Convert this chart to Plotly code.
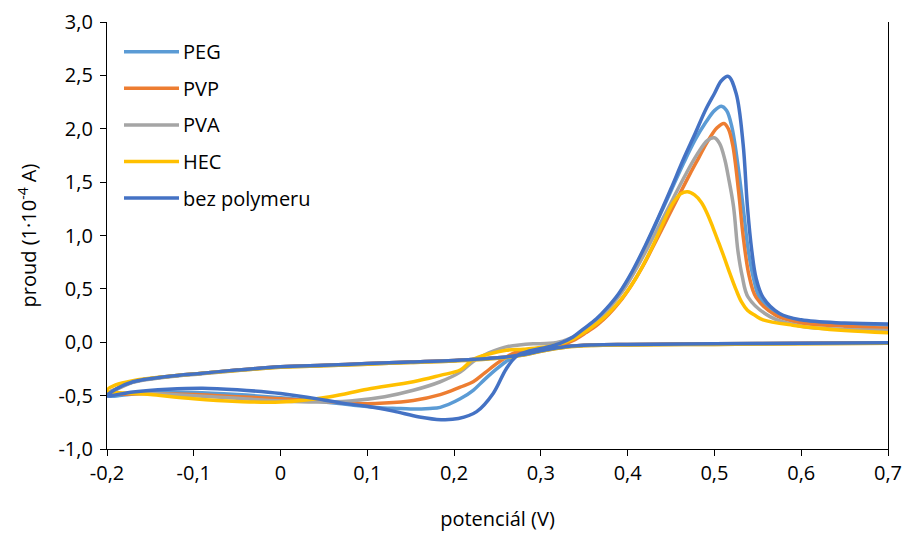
import plotly.graph_objects as go

# Cyclic voltammograms: potential (V) vs current (1e-4 A).
# Each loop is listed from the upper-right end (0.7 V) leftwards along the
# peak branch down to -0.2 V, then back rightwards along the lower-current branch.

peg_E = [0.70, 0.65, 0.60, 0.573, 0.552, 0.545, 0.539, 0.534, 0.528, 0.520, 0.514, 0.508, 0.500,
         0.490, 0.478, 0.464, 0.450, 0.436, 0.420, 0.405, 0.390, 0.376, 0.364, 0.350, 0.337, 0.322,
         0.305, 0.288, 0.272, 0.260, 0.249, 0.235, 0.222, 0.207, 0.184, 0.172, 0.150, 0.134, 0.110,
         0.080, 0.050, 0.000, -0.050, -0.100, -0.150, -0.200,
         -0.190, -0.170, -0.130, -0.090, -0.050, 0.000, 0.050, 0.100, 0.150, 0.200, 0.250, 0.280,
         0.300, 0.330, 0.360, 0.400, 0.500, 0.600, 0.700]
peg_I = [0.16, 0.17, 0.20, 0.26, 0.42, 0.60, 0.86, 1.20, 1.60, 2.02, 2.17, 2.21, 2.17,
         2.06, 1.90, 1.67, 1.42, 1.17, 0.89, 0.65, 0.45, 0.31, 0.21, 0.12, 0.04, -0.02,
         -0.05, -0.08, -0.12, -0.18, -0.25, -0.35, -0.45, -0.53, -0.61, -0.62, -0.625, -0.62, -0.61,
         -0.585, -0.56, -0.52, -0.49, -0.47, -0.47, -0.50,
         -0.44, -0.37, -0.32, -0.29, -0.26, -0.23, -0.215, -0.20, -0.185, -0.17, -0.145, -0.115,
         -0.08, -0.04, -0.025, -0.02, -0.015, -0.01, -0.005]

pvp_E = [0.70, 0.65, 0.60, 0.571, 0.548, 0.540, 0.533, 0.528, 0.521, 0.516, 0.511, 0.503, 0.492,
         0.482, 0.472, 0.460, 0.447, 0.432, 0.418, 0.404, 0.390, 0.378, 0.366, 0.352, 0.338, 0.322,
         0.305, 0.288, 0.272, 0.260, 0.249, 0.235, 0.222, 0.207, 0.184, 0.153, 0.120, 0.095, 0.050,
         0.000, -0.050, -0.100, -0.150, -0.200,
         -0.190, -0.170, -0.130, -0.090, -0.050, 0.000, 0.050, 0.100, 0.150, 0.200, 0.250, 0.280,
         0.300, 0.330, 0.360, 0.400, 0.500, 0.600, 0.700]
pvp_I = [0.13, 0.15, 0.18, 0.25, 0.42, 0.62, 1.00, 1.40, 1.85, 2.00, 2.05, 2.01, 1.88,
         1.73, 1.58, 1.39, 1.18, 0.94, 0.72, 0.53, 0.37, 0.26, 0.17, 0.09, 0.02, -0.03,
         -0.05, -0.07, -0.09, -0.14, -0.20, -0.29, -0.37, -0.42, -0.49, -0.545, -0.57, -0.575, -0.555,
         -0.53, -0.51, -0.49, -0.48, -0.48,
         -0.44, -0.37, -0.32, -0.29, -0.26, -0.23, -0.215, -0.20, -0.185, -0.17, -0.145, -0.115,
         -0.08, -0.04, -0.025, -0.02, -0.015, -0.01, -0.005]

pva_E = [0.70, 0.65, 0.60, 0.564, 0.539, 0.532, 0.527, 0.522, 0.516, 0.512, 0.506, 0.500, 0.492,
         0.480, 0.466, 0.452, 0.438, 0.424, 0.410, 0.396, 0.382, 0.368, 0.354, 0.340, 0.325, 0.310,
         0.291, 0.275, 0.262, 0.253, 0.240, 0.222, 0.207, 0.184, 0.153, 0.120, 0.080, 0.040, 0.000,
         -0.050, -0.100, -0.150, -0.200,
         -0.190, -0.170, -0.130, -0.090, -0.050, 0.000, 0.050, 0.100, 0.150, 0.200, 0.250, 0.280,
         0.300, 0.330, 0.360, 0.400, 0.500, 0.600, 0.700]
pva_I = [0.11, 0.12, 0.15, 0.24, 0.42, 0.62, 0.86, 1.27, 1.55, 1.71, 1.86, 1.915, 1.89,
         1.76, 1.56, 1.34, 1.12, 0.90, 0.69, 0.50, 0.35, 0.23, 0.13, 0.06, 0.01, -0.01,
         -0.015, -0.025, -0.04, -0.06, -0.10, -0.18, -0.28, -0.37, -0.45, -0.51, -0.55, -0.56, -0.55,
         -0.525, -0.50, -0.48, -0.47,
         -0.445, -0.375, -0.325, -0.295, -0.265, -0.235, -0.22, -0.205, -0.19, -0.175, -0.15, -0.12,
         -0.085, -0.045, -0.03, -0.025, -0.02, -0.015, -0.01]

hec_E = [0.70, 0.65, 0.59, 0.556, 0.547, 0.538, 0.531, 0.525, 0.518, 0.511, 0.505, 0.4985, 0.492,
         0.485, 0.477, 0.469, 0.461, 0.452, 0.441, 0.430, 0.419, 0.408, 0.397, 0.386, 0.374, 0.362,
         0.350, 0.337, 0.320, 0.300, 0.280, 0.260, 0.240, 0.222, 0.207, 0.184, 0.153, 0.100, 0.057,
         0.000, -0.050, -0.100, -0.150, -0.200,
         -0.190, -0.170, -0.130, -0.090, -0.050, 0.000, 0.050, 0.100, 0.150, 0.200, 0.250, 0.280,
         0.300, 0.330, 0.360, 0.400, 0.500, 0.600, 0.700]
hec_I = [0.09, 0.11, 0.16, 0.21, 0.25, 0.30, 0.38, 0.49, 0.64, 0.80, 0.93, 1.07, 1.20,
         1.31, 1.38, 1.41, 1.39, 1.30, 1.12, 0.92, 0.74, 0.58, 0.45, 0.34, 0.24, 0.16,
         0.09, 0.03, -0.02, -0.05, -0.065, -0.075, -0.11, -0.16, -0.26, -0.31, -0.37, -0.44, -0.51,
         -0.56, -0.555, -0.53, -0.49, -0.45,
         -0.40, -0.36, -0.32, -0.29, -0.265, -0.235, -0.22, -0.205, -0.19, -0.175, -0.15, -0.12,
         -0.085, -0.045, -0.03, -0.025, -0.02, -0.015, -0.01]

bez_E = [0.70, 0.65, 0.60, 0.575, 0.556, 0.548, 0.543, 0.538, 0.533, 0.525, 0.516, 0.508, 0.500,
         0.490, 0.478, 0.464, 0.450, 0.436, 0.420, 0.405, 0.390, 0.376, 0.364, 0.350, 0.337, 0.322,
         0.305, 0.288, 0.272, 0.260, 0.245, 0.226, 0.205, 0.185, 0.160, 0.130, 0.100, 0.075, 0.050,
         0.000, -0.050, -0.090, -0.130, -0.170, -0.200,
         -0.190, -0.170, -0.130, -0.090, -0.050, 0.000, 0.050, 0.100, 0.150, 0.200, 0.250, 0.280,
         0.300, 0.330, 0.360, 0.400, 0.500, 0.600, 0.700]
bez_I = [0.17, 0.18, 0.21, 0.27, 0.42, 0.60, 0.86, 1.27, 1.86, 2.33, 2.49, 2.45, 2.33,
         2.18, 1.96, 1.71, 1.44, 1.18, 0.90, 0.66, 0.46, 0.32, 0.22, 0.13, 0.05, -0.01,
         -0.05, -0.08, -0.13, -0.25, -0.48, -0.65, -0.715, -0.725, -0.70, -0.645, -0.60, -0.575, -0.54,
         -0.48, -0.445, -0.43, -0.44, -0.465, -0.50,
         -0.44, -0.37, -0.32, -0.29, -0.26, -0.23, -0.215, -0.20, -0.185, -0.17, -0.145, -0.115,
         -0.08, -0.04, -0.025, -0.02, -0.015, -0.01, -0.005]

series_names = ["PEG", "PVP", "PVA", "HEC", "bez polymeru"]
series_colors = ["#5B9BD5", "#ED7D31", "#A5A5A5", "#FFC000", "#4472C4"]
series_E = [peg_E, pvp_E, pva_E, hec_E, bez_E]
series_I = [peg_I, pvp_I, pva_I, hec_I, bez_I]

x_ticks = [-0.2, -0.1, 0.0, 0.1, 0.2, 0.3, 0.4, 0.5, 0.6, 0.7]
x_tick_labels = ["-0,2", "-0,1", "0", "0,1", "0,2", "0,3", "0,4", "0,5", "0,6", "0,7"]
y_ticks = [-1.0, -0.5, 0.0, 0.5, 1.0, 1.5, 2.0, 2.5, 3.0]
y_tick_labels = ["-1,0", "-0,5", "0,0", "0,5", "1,0", "1,5", "2,0", "2,5", "3,0"]

FONT = "Open Sans"
FS = 20
W, H = 904, 533
L, R, T, B = 107, 16, 22, 84
plot_w = W - L - R
plot_h = H - T - B

fig = go.Figure()
for name, color, E, I in zip(series_names, series_colors, series_E, series_I):
    fig.add_trace(go.Scatter(
        x=E, y=I, mode="lines", name=name,
        line=dict(color=color, width=3.5, shape="spline", smoothing=1.0),
        showlegend=False, hoverinfo="skip",
    ))

# Legend drawn as line samples and text inside the upper-left corner
legend_top_px = 51.7
legend_step_px = 36.6
shapes, annotations = [], []
for k, (name, color) in enumerate(zip(series_names, series_colors)):
    py = legend_top_px + k * legend_step_px
    yp = (H - B - py) / plot_h
    shapes.append(dict(type="line", xref="paper", yref="paper",
                       x0=(124 - L) / plot_w, x1=(179 - L) / plot_w, y0=yp, y1=yp,
                       line=dict(color=color, width=3.5)))
    annotations.append(dict(xref="paper", yref="paper", x=(181 - L) / plot_w, y=yp,
                            text=name, showarrow=False, xanchor="left", yanchor="middle",
                            font=dict(family=FONT, size=FS, color="#000000")))

fig.update_layout(
    width=W, height=H,
    margin=dict(l=L, r=R, t=T, b=B),
    paper_bgcolor="white", plot_bgcolor="white",
    font=dict(family=FONT, size=FS, color="#000000"),
    shapes=shapes, annotations=annotations,
    showlegend=False,
)
fig.update_xaxes(
    range=[-0.2, 0.7], tickvals=x_ticks, ticktext=x_tick_labels, automargin=False,
    showgrid=False, zeroline=False, showline=True, linecolor="#000000", linewidth=1.2,
    ticks="outside", ticklen=6, tickcolor="#000000", tickwidth=1.2,
    tickfont=dict(family=FONT, size=FS, color="#000000"),
    title=dict(text="potenciál (V)", font=dict(family=FONT, size=FS, color="#000000"), standoff=26),
)
fig.update_yaxes(
    range=[-1.0, 3.0], tickvals=y_ticks, ticktext=y_tick_labels, automargin=False,
    showgrid=False, zeroline=False, showline=True, linecolor="#000000", linewidth=1.2,
    mirror=True,
    ticks="outside", ticklen=6, tickcolor="#000000", tickwidth=1.2, ticklabelstandoff=3,
    tickfont=dict(family=FONT, size=FS, color="#000000"),
    title=dict(text="proud (1·10<sup>-4</sup> A)", font=dict(family=FONT, size=FS, color="#000000"),
               standoff=16),
)

fig.write_html("out.html")
